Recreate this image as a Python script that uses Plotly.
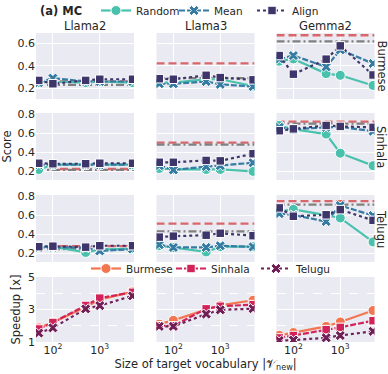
import plotly.graph_objects as go

# ---------------- data ----------------
vocab = [50, 100, 500, 1000, 5000]
models = ["Llama2", "Llama3", "Gemma2"]
languages = ["Burmese", "Sinhala", "Telugu"]
methods = ["Random", "Mean", "Align"]

# Score values: [language][model]
random_scores = [
    [[0.25, 0.26, 0.25, 0.26, 0.25], [0.25, 0.25, 0.28, 0.28, 0.22], [0.44, 0.46, 0.33, 0.315, 0.225]],
    [[0.22, 0.27, 0.27, 0.27, 0.27], [0.23, 0.22, 0.22, 0.22, 0.20], [0.68, 0.64, 0.59, 0.39, 0.26]],
    [[0.27, 0.27, 0.21, 0.24, 0.25], [0.28, 0.26, 0.215, 0.27, 0.27], [0.64, 0.66, 0.60, 0.57, 0.32]],
]
mean_scores = [
    [[0.25, 0.29, 0.26, 0.26, 0.26], [0.24, 0.24, 0.26, 0.235, 0.215], [0.46, 0.49, 0.39, 0.54, 0.42]],
    [[0.27, 0.27, 0.27, 0.27, 0.27], [0.26, 0.215, 0.25, 0.26, 0.29], [0.66, 0.64, 0.66, 0.665, 0.62]],
    [[0.26, 0.265, 0.26, 0.225, 0.245], [0.29, 0.262, 0.262, 0.28, 0.268], [0.615, 0.60, 0.533, 0.70, 0.595]],
]
align_scores = [
    [[0.27, 0.24, 0.27, 0.28, 0.28], [0.285, 0.28, 0.315, 0.295, 0.275], [0.49, 0.325, 0.458, 0.576, 0.318]],
    [[0.285, 0.28, 0.28, 0.285, 0.285], [0.295, 0.295, 0.315, 0.31, 0.385], [0.625, 0.644, 0.68, 0.67, 0.66]],
    [[0.27, 0.275, 0.265, 0.28, 0.28], [0.37, 0.38, 0.39, 0.41, 0.385], [0.675, 0.588, 0.603, 0.657, 0.545]],
]
# Baselines (red dashed, gray dash-dot): [language][model]
baseline_red = [[0.26, 0.42, 0.67], [0.225, 0.50, 0.72], [0.275, 0.51, 0.745]]
baseline_gray = [[0.23, 0.29, 0.615], [0.215, 0.48, 0.70], [0.245, 0.43, 0.71]]

# Speedup: [model][language]
speedup = [
    [[1.87, 2.2, 3.15, 3.6, 4.1], [1.8, 2.2, 3.25, 3.7, 4.06], [1.55, 1.87, 3.04, 3.24, 3.84]],
    [[2.1, 2.33, 3.0, 3.25, 3.57], [2.0, 2.0, 3.04, 3.2, 3.3], [1.96, 1.96, 2.72, 2.98, 3.05]],
    [[1.41, 1.58, 1.96, 2.23, 2.94], [1.25, 1.4, 1.76, 1.9, 2.31], [1.09, 1.12, 1.26, 1.4, 1.66]],
]

xtick_vals = [100, 1000]
xtick_text = ["10<sup>2</sup>", "10<sup>3</sup>"]

# ---------------- style ----------------
W, H = 388, 374
FONT = "DejaVu Sans"
TXT = "#262626"
BG = "#EAEAF2"
method_colors = {"Random": "#49C1AD", "Mean": "#357BA2", "Align": "#3E356B"}
method_symbols = {"Random": "circle", "Mean": "x", "Align": "square"}
method_dash = {"Random": "solid", "Mean": "6px,2px", "Align": "dot"}
method_msize = {"Random": 10, "Mean": 9, "Align": 8.5}
lang_colors = {"Burmese": "#F37651", "Sinhala": "#D1235A", "Telugu": "#701F57"}
lang_symbols = {"Burmese": "circle", "Sinhala": "square", "Telugu": "x"}
lang_dash = {"Burmese": "solid", "Sinhala": "6px,2px", "Telugu": "dot"}
lang_msize = {"Burmese": 10, "Sinhala": 8.5, "Telugu": 9}

col_px = [(36, 134), (156.5, 254.5), (276.5, 374.5)]
row_px = [(33, 99), (113, 180), (195, 262), (277, 342)]
xrange_log = [1.64, 3.73]
yranges = [[0.105, 0.69], [0.11, 0.81], [0.11, 0.81], [1.0, 5.0]]


def xd(p):
    return [p[0] / W, p[1] / W]


def yd(p):
    return [1 - p[1] / H, 1 - p[0] / H]


fig = go.Figure()
layout = {}
x_ext = [10 ** xrange_log[0], 10 ** xrange_log[1]]

for r in range(4):
    for c in range(3):
        k = r * 3 + c + 1
        xa = "x" if k == 1 else f"x{k}"
        ya = "y" if k == 1 else f"y{k}"
        if r < 3:
            fig.add_trace(go.Scatter(x=x_ext, y=[baseline_red[r][c]] * 2, xaxis=xa, yaxis=ya,
                                     mode="lines", line=dict(color="#D9666A", width=2.3, dash="8px,4px"),
                                     showlegend=False, hoverinfo="skip"))
            fig.add_trace(go.Scatter(x=x_ext, y=[baseline_gray[r][c]] * 2, xaxis=xa, yaxis=ya,
                                     mode="lines", line=dict(color="#808080", width=2.3, dash="8px,3px,2px,3px"),
                                     showlegend=False, hoverinfo="skip"))
            for m, vals in zip(methods, [random_scores, mean_scores, align_scores]):
                fig.add_trace(go.Scatter(
                    x=vocab, y=vals[r][c], xaxis=xa, yaxis=ya, name=m, legend="legend",
                    mode="lines+markers",
                    line=dict(color=method_colors[m], width=2.2, dash=method_dash[m]),
                    marker=dict(symbol=method_symbols[m], size=method_msize[m], color=method_colors[m],
                                line=dict(color="white", width=1)),
                    showlegend=(r == 0 and c == 0)))
        else:
            for li, lang in enumerate(languages):
                fig.add_trace(go.Scatter(
                    x=vocab, y=speedup[c][li], xaxis=xa, yaxis=ya, name=lang, legend="legend2",
                    mode="lines+markers",
                    line=dict(color=lang_colors[lang], width=2.2, dash=lang_dash[lang]),
                    marker=dict(symbol=lang_symbols[lang], size=lang_msize[lang], color=lang_colors[lang],
                                line=dict(color="white", width=1)),
                    showlegend=(c == 0)))
        xkey = "xaxis" if k == 1 else f"xaxis{k}"
        ykey = "yaxis" if k == 1 else f"yaxis{k}"
        layout[xkey] = dict(domain=xd(col_px[c]), anchor=ya, type="log", range=xrange_log,
                            tickvals=xtick_vals, ticktext=xtick_text, showticklabels=(r == 3),
                            showgrid=True, gridcolor="white", gridwidth=1.3, zeroline=False,
                            showline=False, ticks="", automargin=False,
                            tickfont=dict(size=11, color=TXT, family=FONT))
        ydict = dict(domain=yd(row_px[r]), anchor=xa, range=yranges[r], automargin=False,
                     showticklabels=(c == 0), showgrid=True, gridcolor="white", gridwidth=1.3,
                     zeroline=False, showline=False, ticks="",
                     tickfont=dict(size=11, color=TXT, family=FONT))
        if r < 3:
            ydict.update(tickvals=[0.2, 0.4, 0.6, 0.8], ticktext=["0.2", "0.4", "0.6", "0.8"])
        else:
            ydict.update(tickvals=[1, 3, 5],
                         minor=dict(tickvals=[2, 4], showgrid=True, gridcolor="white",
                                    gridwidth=1.3, griddash="dash", ticks=""))
        layout[ykey] = ydict

layout["yaxis4"]["title"] = dict(text="Score", font=dict(size=11.5, color=TXT, family=FONT), standoff=4)
layout["yaxis10"]["title"] = dict(text="Speedup [x]", font=dict(size=11.5, color=TXT, family=FONT), standoff=4)
layout["xaxis11"]["title"] = dict(text="Size of target vocabulary |𝒱<sub>new</sub>|",
                                  font=dict(size=11.5, color=TXT, family=FONT), standoff=2)

annotations = []
for c, m in enumerate(models):
    annotations.append(dict(text=m, x=sum(col_px[c]) / 2 / W, y=1 - 26 / H, xref="paper", yref="paper",
                            showarrow=False, font=dict(size=11.5, color=TXT, family=FONT),
                            xanchor="center", yanchor="middle"))
for r, lang in enumerate(languages):
    annotations.append(dict(text=lang, x=381.5 / W, y=1 - sum(row_px[r]) / 2 / H, xref="paper", yref="paper",
                            showarrow=False, textangle=90, font=dict(size=11.5, color=TXT, family=FONT),
                            xanchor="center", yanchor="middle"))
annotations.append(dict(text="<b>(a) MC</b>", x=38 / W, y=1 - 11 / H, xref="paper", yref="paper",
                        showarrow=False, font=dict(size=11.5, color=TXT, family=FONT),
                        xanchor="left", yanchor="middle"))

fig.update_layout(
    width=W, height=H, autosize=False,
    margin=dict(l=0, r=0, t=0, b=0, autoexpand=False),
    paper_bgcolor="white", plot_bgcolor=BG,
    font=dict(family=FONT, color=TXT, size=11),
    annotations=annotations,
    legend=dict(orientation="h", x=96 / W, y=1 + 4 / H, xanchor="left", yanchor="top",
                font=dict(size=10.5, color=TXT, family=FONT), bgcolor="rgba(0,0,0,0)",
                itemwidth=30, tracegroupgap=0, entrywidth=33, entrywidthmode="pixels"),
    legend2=dict(orientation="h", x=86 / W, y=1 - 254 / H, xanchor="left", yanchor="top",
                 font=dict(size=10.5, color=TXT, family=FONT), bgcolor="rgba(0,0,0,0)",
                 itemwidth=30, tracegroupgap=0, entrywidth=40, entrywidthmode="pixels"),
    **layout,
)

fig.write_html("out.html", config={"displayModeBar": False},
               post_script="document.body.style.margin='0';")
